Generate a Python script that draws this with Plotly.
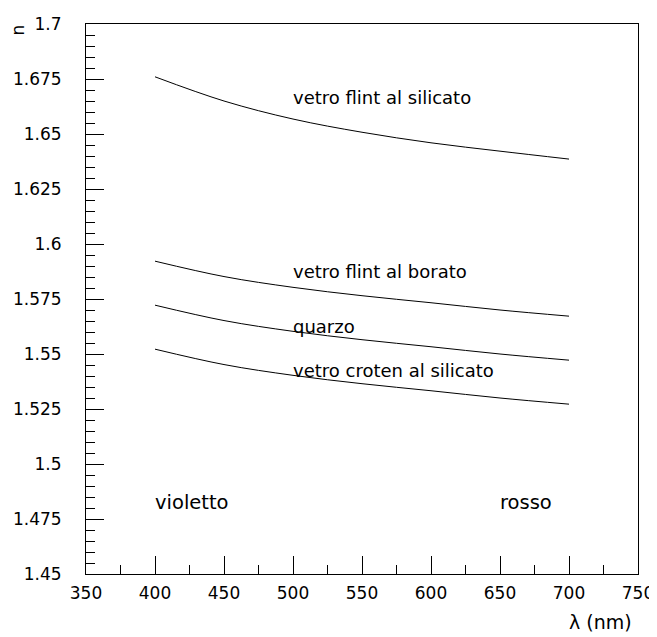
import plotly.graph_objects as go

wavelength = [400, 450, 500, 550, 600, 650, 700]
flint_silicato = [1.676, 1.6650, 1.6568, 1.6508, 1.6460, 1.6422, 1.6386]
flint_borato = [1.5922, 1.5852, 1.5803, 1.5765, 1.5733, 1.5700, 1.5672]
quarzo = [1.5722, 1.5652, 1.5603, 1.5565, 1.5533, 1.5500, 1.5472]
croten_silicato = [1.5522, 1.5452, 1.5403, 1.5365, 1.5333, 1.5300, 1.5272]

x_ticks = [350, 400, 450, 500, 550, 600, 650, 700, 750]
x_ticklabels = ["350", "400", "450", "500", "550", "600", "650", "700", "750"]
y_ticks = [1.45, 1.475, 1.5, 1.525, 1.55, 1.575, 1.6, 1.625, 1.65, 1.675, 1.7]
y_ticklabels = ["1.45", "1.475", "1.5", "1.525", "1.55", "1.575", "1.6", "1.625", "1.65", "1.675", "1.7"]

curve_labels = ["vetro flint al silicato", "vetro flint al borato", "quarzo", "vetro croten al silicato"]
label_x = [500, 500, 500, 500]
label_y = [1.6668, 1.5877, 1.5623, 1.5423]
region_labels = ["violetto", "rosso"]
region_x = [400, 650]
region_y = [1.4823, 1.4823]

FONT = "DejaVu Sans"
fig = go.Figure()
for ys in [flint_silicato, flint_borato, quarzo, croten_silicato]:
    fig.add_trace(go.Scatter(x=wavelength, y=ys, mode="lines",
                             line=dict(color="black", width=1, shape="spline"),
                             showlegend=False))

annotations = []
for t, x, y in zip(curve_labels, label_x, label_y):
    annotations.append(dict(x=x, y=y, xref="x", yref="y", text=t, showarrow=False,
                            xanchor="left", yanchor="middle", xshift=-2,
                            font=dict(size=18, color="black", family=FONT)))
for t, x, y in zip(region_labels, region_x, region_y):
    annotations.append(dict(x=x, y=y, xref="x", yref="y", text=t, showarrow=False,
                            xanchor="left", yanchor="middle", xshift=-2,
                            font=dict(size=19.5, color="black", family=FONT)))
annotations.append(dict(x=0.993, y=-0.087, xref="paper", yref="paper", text="λ (nm)", showarrow=False,
                        xanchor="right", yanchor="middle", font=dict(size=19, color="black", family=FONT)))
annotations.append(dict(x=-0.124, y=0.989, xref="paper", yref="paper", text="n", showarrow=False,
                        textangle=-90, xanchor="center", yanchor="middle", font=dict(size=17, color="black", family=FONT)))

# the page body adds an 8px offset, so the figure is sized to fit the window
fig.update_layout(
    width=649, height=629,
    margin=dict(l=78, r=19, t=16, b=63),
    paper_bgcolor="white", plot_bgcolor="white",
    font=dict(family=FONT, size=17, color="black"),
    annotations=annotations,
)
fig.update_xaxes(range=[350, 750], tickvals=x_ticks, ticktext=x_ticklabels,
                 ticks="inside", ticklen=18, tickcolor="black", tickwidth=1,
                 minor=dict(dtick=25, tick0=350, ticks="inside", ticklen=9, tickcolor="black"),
                 showline=True, linecolor="black", linewidth=1, mirror=True,
                 showgrid=False, zeroline=False, ticklabelstandoff=4, automargin=False)
fig.update_yaxes(range=[1.45, 1.7], tickvals=y_ticks, ticktext=y_ticklabels,
                 ticks="inside", ticklen=18, tickcolor="black", tickwidth=1,
                 minor=dict(dtick=0.005, tick0=1.45, ticks="inside", ticklen=9, tickcolor="black"),
                 showline=True, linecolor="black", linewidth=1, mirror=True,
                 showgrid=False, zeroline=False, ticklabelstandoff=20, automargin=False)
fig.write_html("out.html")
